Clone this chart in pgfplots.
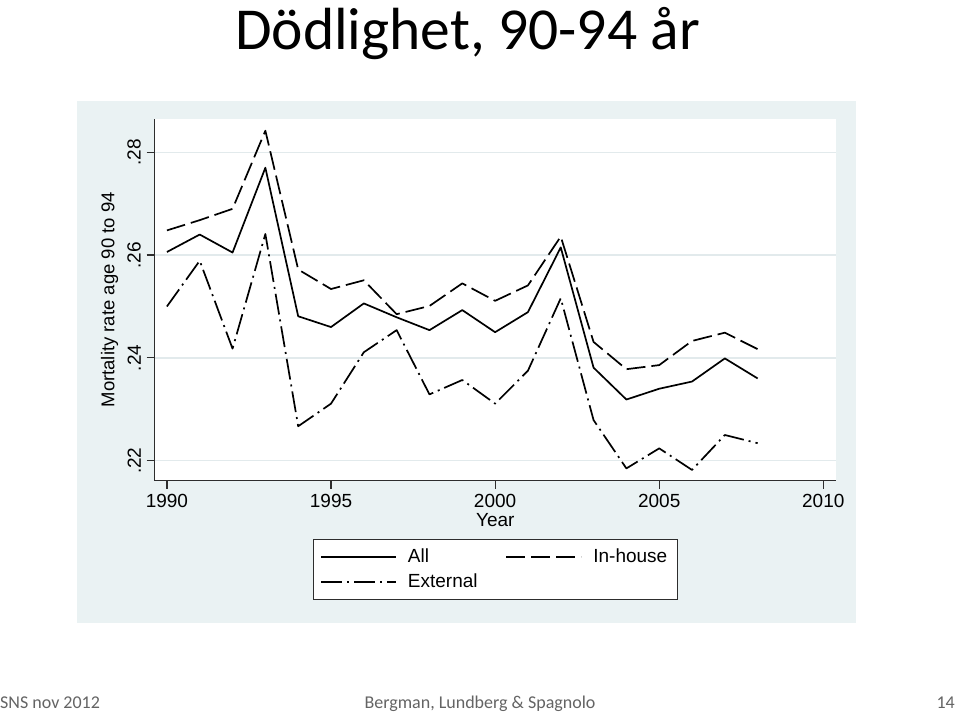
\documentclass[border=0pt]{standalone}
\usepackage{fontspec}
\setmainfont{Liberation Sans}
\newfontfamily\slidefont{Carlito}
\usepackage{pgfplots}
\pgfplotsset{compat=1.18}

\definecolor{regionbg}{RGB}{234,242,243}
\definecolor{gridcol}{RGB}{226,234,236}
\definecolor{axcol}{RGB}{45,45,45}
\definecolor{footgray}{RGB}{100,100,100}

% mortality rate, age 90-94
\pgfplotstableread{
year  all     inhouse  external
1990  0.2606  0.2648   0.2500
1991  0.2640  0.2668   0.2589
1992  0.2605  0.2690   0.2418
1993  0.2770  0.2842   0.2641
1994  0.2481  0.2572   0.2267
1995  0.2460  0.2534   0.2311
1996  0.2506  0.2551   0.2411
1997  0.2479  0.2485   0.2454
1998  0.2454  0.2501   0.2329
1999  0.2493  0.2545   0.2357
2000  0.2450  0.2511   0.2311
2001  0.2489  0.2541   0.2375
2002  0.2615  0.2636   0.2516
2003  0.2381  0.2431   0.2279
2004  0.2319  0.2378   0.2185
2005  0.2340  0.2386   0.2224
2006  0.2354  0.2433   0.2182
2007  0.2399  0.2449   0.2250
2008  0.2360  0.2417   0.2234
}\mortality

\begin{document}
\begin{tikzpicture}[x=1bp,y=1bp]
\fill[white] (0,0) rectangle (959,713);
\fill[regionbg] (77,90) rectangle (856,612);

\node[anchor=base, inner sep=0pt, font=\slidefont\fontsize{59.5bp}{70bp}\selectfont]
  at (467.5,663) {Dödlighet, 90-94 år};
\begin{scope}[every node/.style={inner sep=0pt, text=footgray, font=\slidefont\fontsize{18bp}{21bp}\selectfont}]
\node[anchor=base west] at (0,4.7) {SNS nov 2012};
\node[anchor=base] at (480,4.7) {Bergman, Lundberg \& Spagnolo};
\node[anchor=base east] at (955,4.7) {14};
\end{scope}

\begin{axis}[
    at={(154.5bp,232.3bp)}, anchor=south west,
    scale only axis,
    width=681.5bp, height=361.7bp,
    xmin=1989.622, xmax=2010.387,
    ymin=0.21611, ymax=0.28648,
    axis x line*=bottom, axis y line*=left,
    axis line style={axcol, line width=1.2bp, -},
    axis background/.style={fill=white},
    xtick={1990,1995,2000,2005,2010},
    xticklabels={1990,1995,2000,2005,2010},
    ytick={0.22,0.24,0.26,0.28},
    yticklabels={.22,.24,.26,.28},
    tick align=outside,
    major tick length=8bp,
    tick style={axcol, line width=1.2bp},
    ymajorgrids,
    grid style={gridcol, line width=1.4bp},
    ticklabel style={font=\fontsize{19bp}{22bp}\selectfont, inner sep=0pt},
    yticklabel style={xshift=-5.5bp, rotate=90, anchor=south},
    xticklabel style={yshift=-5bp, anchor=north},
    every axis y label/.style={at={(axis description cs:-0.066,0.5)}, rotate=90, anchor=center,
        font=\fontsize{18.5bp}{22bp}\selectfont, inner sep=0pt},
    every axis x label/.style={at={(axis description cs:0.5,-0.1075)}, anchor=center,
        font=\fontsize{19bp}{22bp}\selectfont, inner sep=0pt},
    xlabel={Year},
    ylabel={Mortality rate age 90 to 94},
    legend columns=2,
    legend style={at={(0.5,-0.1612)}, anchor=north, draw=axcol, line width=1bp,
        fill=white, font=\fontsize{19bp}{22bp}\selectfont,
        inner xsep=7bp, inner ysep=6bp, row sep=2bp,
        nodes={inner xsep=3bp, inner ysep=3bp, text height=14bp, text depth=3bp},
        /tikz/every odd column/.append style={column sep=8bp},
        /tikz/every even column/.append style={column sep=25bp},
        cells={anchor=west}},
    legend image code/.code={\draw[#1] (0bp,0bp) -- (75bp,0bp);},
    every axis plot/.append style={black, line width=1.7bp, line join=round},
]
\addplot[solid] table[x=year, y=all] {\mortality};
\addlegendentry{All}
\addplot[dash pattern=on 19bp off 6bp] table[x=year, y=inhouse] {\mortality};
\addlegendentry{In-house}
\addplot[dash pattern=on 21bp off 5bp on 2bp off 5bp] table[x=year, y=external] {\mortality};
\addlegendentry{External}
\end{axis}
\end{tikzpicture}
\end{document}
